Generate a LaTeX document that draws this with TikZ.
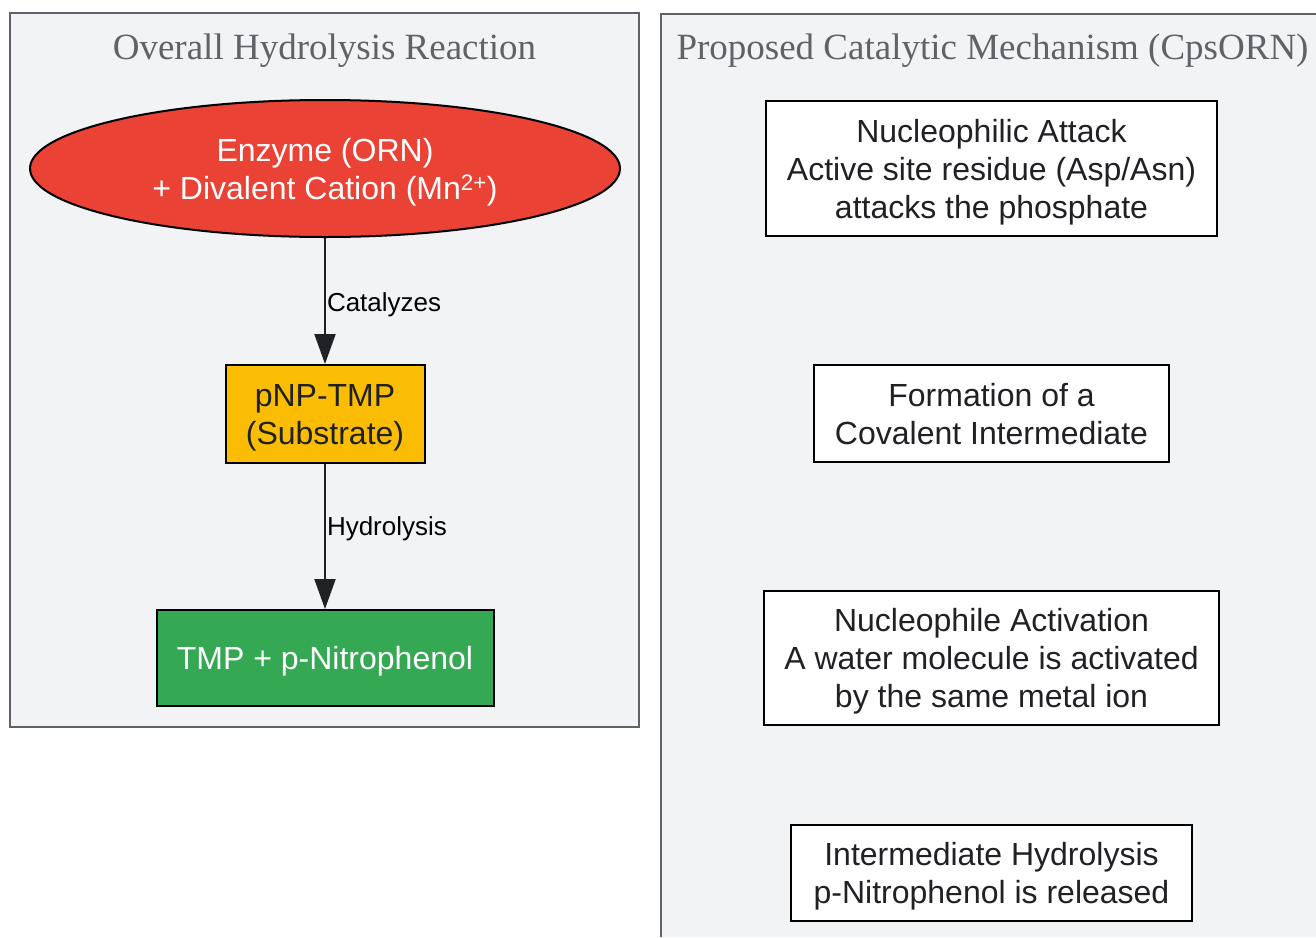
\documentclass[tikz,border=0pt]{standalone}
\usepackage{fontspec}
\setmainfont{Liberation Sans}
\newfontfamily\clusterfont{Liberation Serif}
\usetikzlibrary{shapes.geometric}
\usetikzlibrary{positioning}
\usetikzlibrary{arrows.meta}

\definecolor{clusterbg}{HTML}{F1F3F4}
\definecolor{clusterline}{HTML}{5F6368}
\definecolor{enzred}{HTML}{EA4335}
\definecolor{subyellow}{HTML}{FBBC04}
\definecolor{prodgreen}{HTML}{34A853}
\definecolor{textdark}{HTML}{202124}

% centred lines, set a little lower in the box
\newcommand\boxlines[1]{\raisebox{-4pt}[\height][\depth]{\begin{tabular}{@{}c@{}}#1\end{tabular}}}

\begin{document}
\begin{tikzpicture}[x=1pt,y=-1pt]

\tikzset{
    cluster/.style={draw=clusterline, fill=clusterbg, line width=2pt},
    clustertitle/.style={font=\clusterfont\fontsize{37}{44}\selectfont, text=clusterline, inner sep=0pt},
    box/.style={draw=black, line width=2pt, inner sep=0pt,
                font=\fontsize{32}{38}\selectfont, text=textdark},
    myarrow/.style={-{Triangle[width=21pt,length=30pt]}, line width=2pt, draw=textdark, fill=textdark},
    edgelabel/.style={font=\fontsize{26}{30}\selectfont, anchor=west, inner sep=1pt, text=black}
}

% page
\useasboundingbox (0,0) rectangle (1316,937);
\fill[white] (0,0) rectangle (1316,937);

%%%%%%%%%%%%%%%%%%%%%%%%%%%%%%%%%%%%%%%%%%%%%%%%%%%%%%%%%
%                  Overall reaction                     %
%%%%%%%%%%%%%%%%%%%%%%%%%%%%%%%%%%%%%%%%%%%%%%%%%%%%%%%%%

% Cluster left
\draw[cluster] (10,13) rectangle (639,727);
\node[clustertitle] (titlel) at (324.5,51) {Overall Hydrolysis Reaction};

% Enzyme
\node[box, ellipse, fill=enzred, text=white, minimum width=590pt, minimum height=137pt] (enzyme) at (325,168.5)
  {\boxlines{Enzyme (ORN)\\+ Divalent Cation (Mn\textsuperscript{2+})}};

% Substrate
\node[box, fill=subyellow, minimum width=199pt, minimum height=98pt, below=126pt of enzyme] (substrate)
  {\boxlines{pNP-TMP\\(Substrate)}};
\draw[myarrow] (enzyme.south) -- node[edgelabel, pos=0.53] (catlabel) {Catalyzes} (substrate.north);

% Product
\node[box, fill=prodgreen, text=white, minimum width=337pt, minimum height=96pt, below=145pt of substrate] (product)
  {\boxlines{TMP + p-Nitrophenol}};
\draw[myarrow] (substrate.south) -- node[edgelabel, pos=0.45] (hydlabel) {Hydrolysis} (product.north);


%%%%%%%%%%%%%%%%%%%%%%%%%%%%%%%%%%%%%%%%%%%%%%%%%%%%%%%%%
%                  Mechanism (CpsORN)                   %
%%%%%%%%%%%%%%%%%%%%%%%%%%%%%%%%%%%%%%%%%%%%%%%%%%%%%%%%%

% Cluster right (runs off the page)
\fill[clusterbg] (661,14) rectangle (1316,937);
\draw[clusterline, line width=2pt] (1316,14) -- (661,14) -- (661,937);
\node[clustertitle] (titler) at (992.5,51) {Proposed Catalytic Mechanism (CpsORN)};

% Steps
\node[box, fill=white, minimum width=451pt, minimum height=135pt] (attack) at (991.5,168.5)
  {\boxlines{Nucleophilic Attack\\Active site residue (Asp/Asn)\\attacks the phosphate}};
\node[box, fill=white, minimum width=355pt, minimum height=97pt, below=127pt of attack] (covalent)
  {\boxlines{Formation of a\\Covalent Intermediate}};
\node[box, fill=white, minimum width=455pt, minimum height=134pt, below=127pt of covalent] (activation)
  {\boxlines{Nucleophile Activation\\A water molecule is activated\\by the same metal ion}};
\node[box, fill=white, minimum width=401pt, minimum height=96pt, below=98pt of activation] (release)
  {\boxlines{Intermediate Hydrolysis\\p-Nitrophenol is released}};

\end{tikzpicture}
\end{document}
